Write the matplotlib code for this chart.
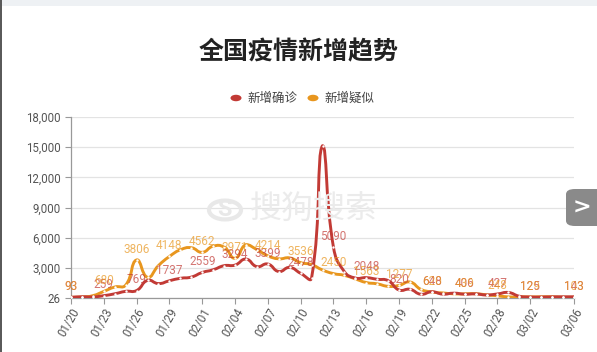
import numpy as np
import matplotlib
matplotlib.use("Agg")
import matplotlib.pyplot as plt
from matplotlib.path import Path
from matplotlib.patches import PathPatch, Circle, FancyBboxPatch
import pandas as pd

plt.rcParams['font.family'] = ['Roboto', 'Noto Sans CJK SC', 'DejaVu Sans']

# daily data 01/20 .. 03/06
dates = pd.date_range("2020-01-20", "2020-03-06").strftime("%m/%d").tolist()

confirmed = [93, 149, 131, 259, 444, 688, 769, 1771, 1459, 1737,
             1982, 2102, 2559, 2829, 3235, 3294, 3887, 3143, 3399, 2656,
             3062, 2478, 2015, 15152, 5090, 2641, 2009, 2048, 1886, 1749,
             820, 889, 397, 648, 409, 508, 406, 433, 327, 427,
             573, 202, 125, 119, 139, 143, 143]

suspected = [93, 120, 257, 680, 1118, 1309, 3806, 2077, 3248, 4148,
             4812, 5019, 4562, 5173, 5072, 3971, 5328, 4833, 4214, 3916,
             4008, 3536, 3342, 2807, 2450, 2277, 1918, 1563, 1432, 1185,
             1277, 1614, 882, 620, 530, 439, 439, 452, 335, 248,
             132, 141, 129, 143, 143, 102, 103]

series_names = ["新增确诊", "新增疑似"]
series_colors = ["#c23a35", "#e8961e"]

y_ticks = [26, 3000, 6000, 9000, 12000, 15000, 18000]
tick_idx = list(range(0, 43, 3)) + [46]

W, H = 597, 352
fig = plt.figure(figsize=(W / 100, H / 100), dpi=100)
fig.patch.set_facecolor("white")

# page decorations: top band and left border
fig.add_artist(plt.Rectangle((0, 1 - 6 / H), 1, 6 / H, transform=fig.transFigure,
                             color="#eef1f4", lw=0))
fig.add_artist(plt.Rectangle((0, 0), 2 / W, 1, transform=fig.transFigure,
                             color="#5a5a5a", lw=0))

ax = fig.add_axes([71 / W, 54 / H, 503 / W, 181 / H])
ax.set_xlim(0, len(dates) - 1)
ax.set_ylim(y_ticks[0], y_ticks[-1])

# scale factors (pixels per unit) for echarts-like smoothing
sx = 503 / (len(dates) - 1)
sy = 181 / (y_ticks[-1] - y_ticks[0])


def smooth_path(vals, smooth=0.5):
    pts = np.column_stack([np.arange(len(vals)) * sx, np.array(vals, float) * sy])
    lo, hi = pts.min(axis=0), pts.max(axis=0)
    n = len(pts)
    cps = []
    for i in range(n):
        p = pts[i]
        prev = pts[i - 1] if i > 0 else p
        nxt = pts[i + 1] if i < n - 1 else p
        v = nxt - prev
        d0 = np.hypot(*(p - prev))
        d1 = np.hypot(*(p - nxt))
        s = d0 + d1
        if s:
            d0, d1 = d0 / s, d1 / s
        c0 = np.clip(p - v * d0 * smooth, lo, hi)
        c1 = np.clip(p + v * d1 * smooth, lo, hi)
        cps.append((c0, c1))
    verts = [pts[0]]
    codes = [Path.MOVETO]
    for i in range(n - 1):
        verts += [cps[i][1], cps[i + 1][0], pts[i + 1]]
        codes += [Path.CURVE4] * 3
    verts = np.array(verts) / np.array([sx, sy])
    return Path(verts, codes)


x = np.arange(len(dates))
for vals, col in zip([confirmed, suspected][::-1], series_colors[::-1]):
    ax.add_patch(PathPatch(smooth_path(vals), fill=False, edgecolor=col, lw=2.1,
                           zorder=3, capstyle="round", joinstyle="round"))
    ax.scatter(x, vals, s=3, color="white", zorder=4, lw=0)

for vals, col in zip([confirmed, suspected], series_colors):
    for i in tick_idx:
        ax.annotate(str(vals[i]), (i, vals[i]), xytext=(0, 3), textcoords="offset points",
                    ha="center", va="bottom", fontsize=8.5, color=col, alpha=0.7,
                    zorder=5, clip_on=False)

ax.set_yticks(y_ticks)
ax.set_yticklabels([f"{v:,}" for v in y_ticks])
ax.set_xticks(tick_idx)
ax.set_xticklabels([dates[i] for i in tick_idx], rotation=60, ha="right",
                   rotation_mode="anchor")
ax.tick_params(axis="both", colors="#999999", labelcolor="#555555", labelsize=8.3,
               length=4, width=0.8)
ax.tick_params(axis="x", pad=2)
ax.grid(axis="y", color="#e3e3e3", lw=0.9)
ax.set_axisbelow(True)
for side in ["top", "right"]:
    ax.spines[side].set_visible(False)
for side in ["left", "bottom"]:
    ax.spines[side].set_color("#999999")
    ax.spines[side].set_linewidth(0.9)
ax.set_facecolor("none")

# watermark
fig.add_artist(Circle((225 / W, 1 - 210 / H), 16 / W, transform=fig.transFigure,
                      facecolor="none", edgecolor="#e8e8e8", lw=3, zorder=1))
fig.text(225 / W, 1 - 210 / H, "S", fontsize=17, fontweight="bold", color="#e8e8e8",
         ha="center", va="center", zorder=1)
fig.text(250 / W, 1 - 210 / H, "搜狗搜索", fontsize=23, color="#ebebeb",
         ha="left", va="center", zorder=1)

# title and legend
fig.text(0.5, 1 - 52 / H, "全国疫情新增趋势", fontsize=18, fontweight="bold",
         color="#222222", ha="center", va="center")
leg_x = [236, 313]
for lx, name, col in zip(leg_x, series_names, series_colors):
    fig.add_artist(Circle((lx / W, 1 - 98 / H), 5.5 / W, transform=fig.transFigure,
                          color=col, lw=0))
    fig.text((lx + 11) / W, 1 - 98 / H, name, fontsize=9, color="#444444",
             ha="left", va="center")

# side arrow button
btn = FancyBboxPatch((566 / W, 1 - 226 / H), 40 / W, 37 / H,
                     boxstyle="round,pad=0,rounding_size=0.015",
                     transform=fig.transFigure, facecolor="#8a8a8a", edgecolor="none",
                     zorder=6)
fig.add_artist(btn)
fig.text(582 / W, 1 - 208 / H, ">", fontsize=16, color="white", fontweight="bold",
         ha="center", va="center", zorder=7, family="DejaVu Sans")

fig.savefig("out.png", dpi=100)
